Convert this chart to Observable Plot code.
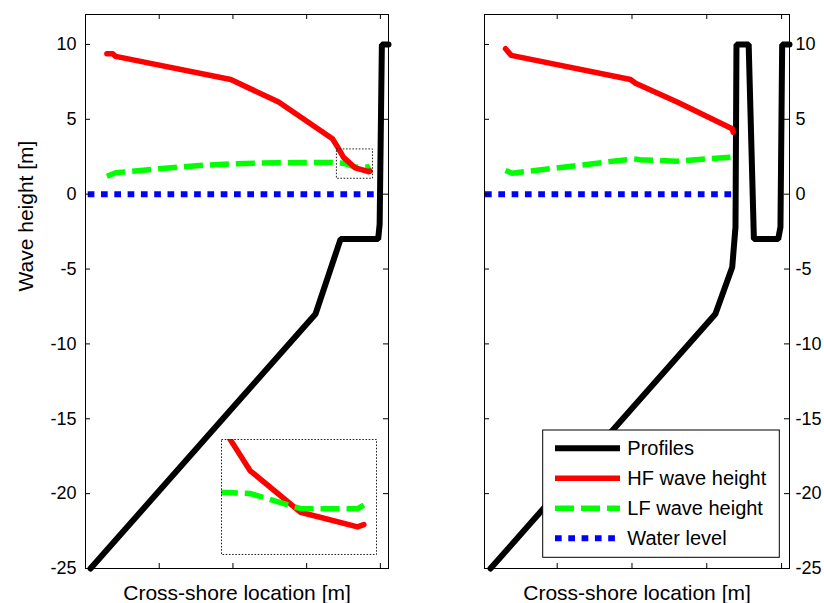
<!DOCTYPE html>
<html><head><meta charset="utf-8">
<script src="https://cdn.jsdelivr.net/npm/d3@7"></script>
<script src="https://cdn.jsdelivr.net/npm/@observablehq/plot@0.6"></script>
<style>
body{margin:0;background:#fff;}
#wrap{position:relative;width:824px;height:603px;overflow:hidden;font-family:"Liberation Sans",Arial,sans-serif;background:#fff;}
#wrap > div{position:absolute;}
svg{overflow:visible;}
</style></head><body><div id="wrap"><div id="left" style="left:0;top:0"></div><div id="right" style="left:412px;top:0"></div><div id="inset" style="left:221px;top:439px"></div><div id="legend" style="left:0;top:0"></div></div>
<script>
// ---- axes / ticks ----
const yTicks = [-25, -20, -15, -10, -5, 0, 5, 10];
const xTicks = [1, 2, 3, 4];
const yDomain = [-25, 12];
const xDomainLeft = [0, 4.11];
const xDomainRight = [0.028, 4.106];
const insetX = [3.41, 3.90];
const insetY = [1.03, 2.99];
const xLabel = "Cross-shore location [m]";
const yLabel = "Wave height [m]";

// ---- left panel data ----
const profLeftX = [0.068, 3.12, 3.46, 3.97, 3.99, 4.02, 4.11];
const profLeftY = [-25, -8, -3, -3, -2.0, 10, 10];
const hfLeftX = [0.29, 0.37, 0.41, 1.97, 2.62, 3.35, 3.42, 3.50, 3.66, 3.84, 3.86];
const hfLeftY = [9.38, 9.38, 9.20, 7.66, 6.15, 3.70, 3.14, 2.46, 1.75, 1.50, 1.54];
const lfLeftX = [0.29, 0.41, 1.0, 1.5, 1.97, 2.62, 3.35, 3.41, 3.50, 3.66, 3.84, 3.86];
const lfLeftY = [1.20, 1.43, 1.70, 1.90, 2.03, 2.10, 2.12, 2.09, 2.07, 1.81, 1.81, 1.87];
const wlLeftX = [0.03, 3.98];
const wlLeftY = [0, 0];

// ---- right panel data ----
const profRightX = [0.108, 3.115, 3.34, 3.384, 3.397, 3.56, 3.63, 3.955, 3.985, 4.008, 4.106];
const profRightY = [-25, -8, -4.88, -2.2, 10, 10, -3, -3, -2.2, 10, 10];
const hfRightX = [0.309, 0.385, 1.98, 2.047, 2.604, 3.34, 3.353];
const hfRightY = [9.71, 9.27, 7.66, 7.41, 6.15, 4.37, 4.14];
const lfRightX = [0.309, 0.398, 2.024, 2.11, 2.60, 3.317];
const lfRightY = [1.58, 1.40, 2.36, 2.30, 2.20, 2.47];
const wlRightX = [0.035, 3.36];
const wlRightY = [0, 0];

// ---- legend ----
const legNames = ["Profiles", "HF wave height", "LF wave height", "Water level"];
const legColors = ["#000000", "#ff0000", "#00ff00", "#0000ff"];
const legDash = [null, null, "19,7", "6.7,6.6"];
const legWidth = [6, 5.5, 5.5, 6];

const zip = (xs, ys) => xs.map((x, i) => ({x, y: ys[i]}));
const font = "'Liberation Sans', Arial, sans-serif";
const W = 412, H = 603, MT = 14, MB = 35;

function lineMarks(s, clip) {
  return [
    Plot.line(zip(s.wlX, s.wlY), {x: "x", y: "y", stroke: legColors[3], strokeWidth: legWidth[3], strokeDasharray: legDash[3], strokeLinecap: "butt", clip}),
    Plot.line(zip(s.lfX, s.lfY), {x: "x", y: "y", stroke: legColors[2], strokeWidth: legWidth[2], strokeDasharray: legDash[2], strokeLinecap: "butt", clip}),
    Plot.line(zip(s.hfX, s.hfY), {x: "x", y: "y", stroke: legColors[1], strokeWidth: legWidth[1], clip}),
  ];
}

function panel(o) {
  const pw = W - o.ml - o.mr, ph = H - MT - MB;
  const marks = [];
  if (o.prof) marks.push(Plot.line(zip(o.prof[0], o.prof[1]), {x: "x", y: "y", stroke: legColors[0], strokeWidth: legWidth[0], strokeLinejoin: "miter"}));
  marks.push(...lineMarks(o, false));
  if (o.box) marks.push(Plot.rect([{x1: insetX[0], x2: insetX[1], y1: insetY[0], y2: insetY[1]}], {x1: "x1", x2: "x2", y1: "y1", y2: "y2", fill: "none", stroke: "#222", strokeWidth: 1, strokeDasharray: "1.6,1.6"}));
  marks.push(
    Plot.frame({stroke: "#000", strokeWidth: 1}),
    Plot.tickY(yTicks, {y: d => d, insetRight: pw - 5, stroke: "#000"}),
    Plot.tickY(yTicks, {y: d => d, insetLeft: pw - 5, stroke: "#000"}),
    Plot.tickX(xTicks, {x: d => d, insetBottom: ph - 5, stroke: "#000"}),
    Plot.tickX(xTicks, {x: d => d, insetTop: ph - 5, stroke: "#000"}),
    Plot.axisY(yTicks, {anchor: o.anchor, tickSize: 0, tickPadding: o.anchor === "left" ? 9 : 6, tickFormat: d => String(d), label: null, fontSize: 18}),
    Plot.text([xLabel], {frameAnchor: "bottom", dy: 25, lineAnchor: "middle", text: d => d, fontSize: 21, fill: "#000"})
  );
  if (o.ylab) marks.push(Plot.text([yLabel], {frameAnchor: "left", dx: -59, rotate: -90, lineAnchor: "middle", text: d => d, fontSize: 21, fill: "#000"}));
  return Plot.plot({
    width: W, height: H,
    marginLeft: o.ml, marginRight: o.mr, marginTop: MT, marginBottom: MB,
    x: {domain: o.xDomain, axis: null},
    y: {domain: yDomain, axis: null},
    style: {fontFamily: font, fontSize: "18px", color: "#000", background: "transparent", overflow: "visible"},
    marks
  });
}

document.getElementById("left").appendChild(panel({
  xDomain: xDomainLeft, ml: 85, mr: 24, anchor: "left", ylab: true, box: true,
  prof: [profLeftX, profLeftY], hfX: hfLeftX, hfY: hfLeftY, lfX: lfLeftX, lfY: lfLeftY, wlX: wlLeftX, wlY: wlLeftY
}));
document.getElementById("right").appendChild(panel({
  xDomain: xDomainRight, ml: 72, mr: 35, anchor: "right", ylab: false, box: false,
  prof: [profRightX, profRightY], hfX: hfRightX, hfY: hfRightY, lfX: lfRightX, lfY: lfRightY, wlX: wlRightX, wlY: wlRightY
}));

// zoomed inset of the left panel's dotted box
document.getElementById("inset").appendChild(Plot.plot({
  width: 155, height: 115, margin: 0,
  x: {domain: insetX, axis: null}, y: {domain: insetY, axis: null},
  style: {background: "transparent", overflow: "visible"},
  marks: [
    Plot.line(zip(hfLeftX, hfLeftY), {x: "x", y: "y", stroke: legColors[1], strokeWidth: legWidth[1], clip: true}),
    Plot.line(zip(lfLeftX, lfLeftY), {x: "x", y: "y", stroke: legColors[2], strokeWidth: legWidth[2], strokeDasharray: legDash[2], strokeLinecap: "butt", clip: true}),
    Plot.frame({stroke: "#222", strokeWidth: 1, strokeDasharray: "1.6,1.6"})
  ]
}));

// legend box inside the right panel
(function () {
  const lx = 542.7, ly = 430, lw = 236.6, lh = 127.3;
  const svg = d3.select("#legend").append("svg").attr("width", 824).attr("height", 603)
    .style("position", "absolute").style("left", 0).style("top", 0);
  const g = svg.append("g").attr("transform", `translate(${lx},${ly})`);
  g.append("rect").attr("width", lw).attr("height", lh).attr("fill", "#fff").attr("stroke", "#000").attr("stroke-width", 1);
  legNames.forEach((name, i) => {
    const cy = 18.3 + i * 30;
    g.append("line").attr("x1", 12.3).attr("x2", 77.3).attr("y1", cy).attr("y2", cy)
      .attr("stroke", legColors[i]).attr("stroke-width", legWidth[i])
      .attr("stroke-dasharray", legDash[i]);
    g.append("text").attr("x", 84.6).attr("y", cy).attr("dy", "0.35em")
      .attr("font-family", font).attr("font-size", 20).attr("fill", "#000").text(name);
  });
})();
</script></body></html>
